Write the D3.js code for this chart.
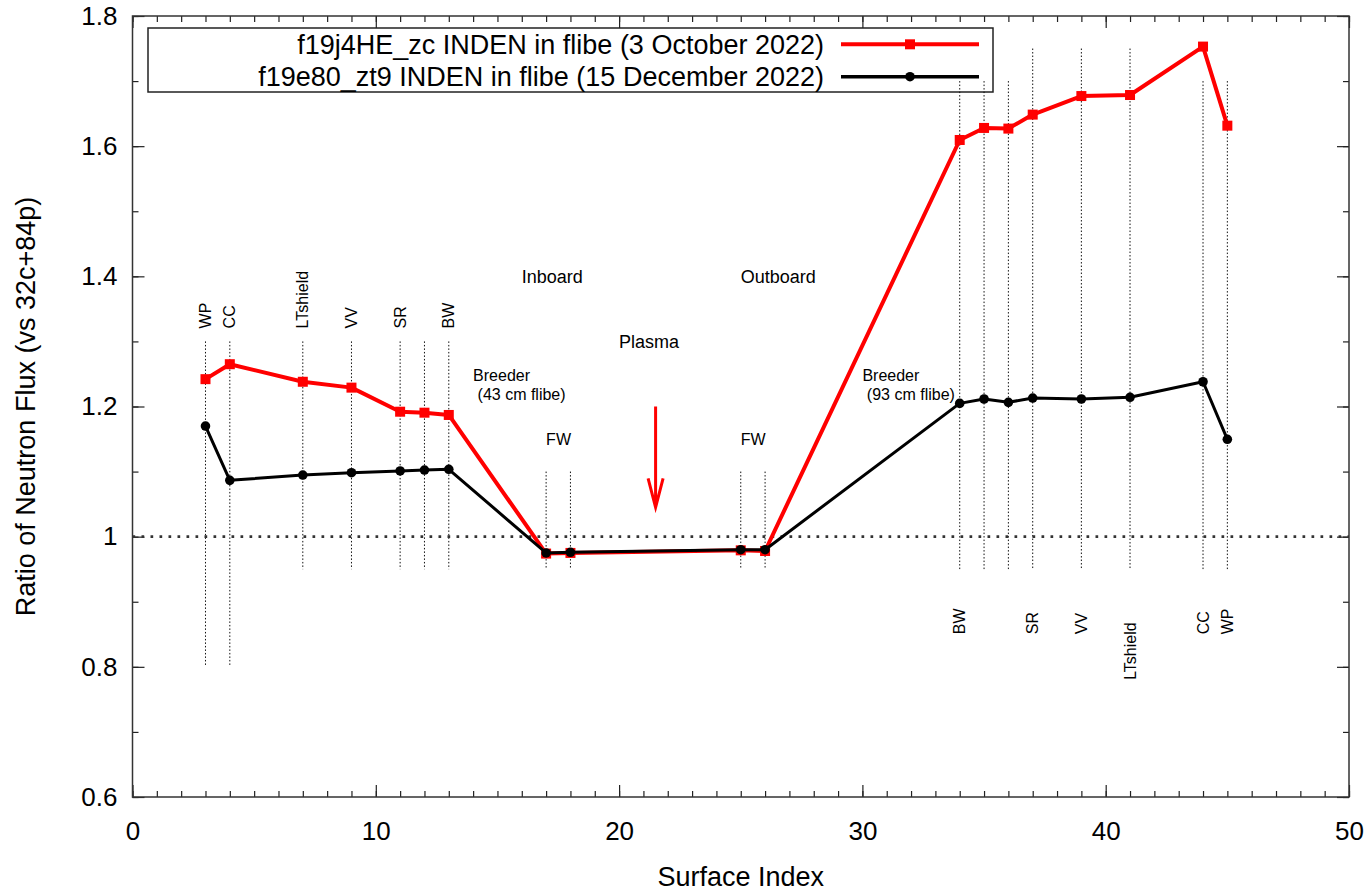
<!DOCTYPE html>
<html>
<head>
<meta charset="utf-8">
<script src="https://cdn.jsdelivr.net/npm/d3@7"></script>
<style>
  body { margin: 0; background: #fff; }
  text { font-family: "Liberation Sans", Arial, sans-serif; fill: #000; }
</style>
</head>
<body>
<svg></svg>
<script>
// surface indices and flux ratios
var surf = [3, 4, 7, 9, 11, 12, 13, 17, 18, 25, 26, 34, 35, 36, 37, 39, 41, 44, 45];
var octRatio = [1.242, 1.265, 1.238, 1.229, 1.192, 1.1905, 1.187, 0.974, 0.975, 0.979, 0.978,
                1.6095, 1.628, 1.627, 1.6485, 1.677, 1.6786, 1.753, 1.6315];
var decRatio = [1.170, 1.0865, 1.0947, 1.0983, 1.101, 1.1024, 1.1035, 0.975, 0.976, 0.980, 0.980,
                1.2048, 1.2115, 1.2064, 1.213, 1.2115, 1.2141, 1.238, 1.1496];
var seriesNames = ["f19j4HE_zc INDEN in flibe (3 October 2022)",
                   "f19e80_zt9 INDEN in flibe (15 December 2022)"];

// dotted guide lines: [x, yFrom, yTo]
var guides = [[3, 1.3, 0.8], [4, 1.3, 0.8], [7, 1.3, 0.95], [9, 1.3, 0.95], [11, 1.3, 0.95],
              [12, 1.3, 0.95], [13, 1.3, 0.95], [17, 1.1, 0.95], [18, 1.1, 0.95], [25, 1.1, 0.95],
              [26, 1.1, 0.95], [34, 1.7, 0.95], [35, 1.7, 0.95], [36, 1.7, 0.95], [37, 1.75, 0.95],
              [39, 1.75, 0.95], [41, 1.75, 0.95], [44, 1.7, 0.95], [45, 1.7, 0.95]];

// rotated component labels: [text, x, y]
var layerLabels = [["WP", 3, 1.32], ["CC", 4, 1.32], ["LTshield", 7, 1.32], ["VV", 9, 1.32],
                   ["SR", 11, 1.32], ["BW", 13, 1.32],
                   ["BW", 34, 0.85], ["SR", 37, 0.85], ["VV", 39, 0.85], ["LTshield", 41, 0.78],
                   ["CC", 44, 0.85], ["WP", 45, 0.85]];

// region labels: [text, x, y, size]
var regionLabels = [["Inboard", 16, 1.4, 18], ["Outboard", 25, 1.4, 18], ["Plasma", 20, 1.3, 18],
                    ["Breeder", 14, 1.248, 16], [" (43 cm flibe)", 14, 1.218, 16],
                    ["Breeder", 30, 1.248, 16], [" (93 cm flibe)", 30, 1.218, 16],
                    ["FW", 17, 1.15, 16], ["FW", 25, 1.15, 16]];

var arrowPos = {x: 21.5, y1: 1.2, y2: 1.045};

var margin = {top: 16, right: 22, bottom: 95, left: 132.5},
    width = 1371 - margin.left - margin.right,
    height = 892 - margin.top - margin.bottom;

var svg = d3.select("svg")
    .attr("width", 1371)
    .attr("height", 892);

var g = svg.append("g")
    .attr("transform", "translate(" + margin.left + "," + margin.top + ")");

var x = d3.scaleLinear().domain([0, 50]).range([0, width]);
var y = d3.scaleLinear().domain([0.6, 1.8]).range([height, 0]);

function styleAxis(sel) {
  sel.select(".domain").remove();
  sel.selectAll(".tick line").attr("stroke", "#222").attr("stroke-width", 1.2);
  sel.selectAll("text").style("font-size", "26px").attr("fill", "#000");
}

// bottom / top axes
g.append("g").attr("transform", "translate(0," + height + ")")
  .call(d3.axisBottom(x).tickValues(d3.range(0, 51)).tickSize(-6).tickFormat(""))
  .call(styleAxis);
g.append("g").attr("transform", "translate(0," + height + ")")
  .call(d3.axisBottom(x).tickValues(d3.range(0, 51, 10)).tickSize(-12).tickPadding(25))
  .call(styleAxis);
g.append("g")
  .call(d3.axisTop(x).tickValues(d3.range(0, 51)).tickSize(-6).tickFormat(""))
  .call(styleAxis);
g.append("g")
  .call(d3.axisTop(x).tickValues(d3.range(0, 51, 10)).tickSize(-12).tickFormat(""))
  .call(styleAxis);

// left / right axes
var minorY = d3.range(6, 19).map(function(d) { return d / 10; });
var majorY = [0.6, 0.8, 1, 1.2, 1.4, 1.6, 1.8];
g.append("g")
  .call(d3.axisLeft(y).tickValues(minorY).tickSize(-6).tickFormat(""))
  .call(styleAxis);
g.append("g")
  .call(d3.axisLeft(y).tickValues(majorY).tickSize(-12).tickPadding(15).tickFormat(d3.format("")))
  .call(styleAxis);
g.append("g").attr("transform", "translate(" + width + ",0)")
  .call(d3.axisRight(y).tickValues(minorY).tickSize(-6).tickFormat(""))
  .call(styleAxis);
g.append("g").attr("transform", "translate(" + width + ",0)")
  .call(d3.axisRight(y).tickValues(majorY).tickSize(-12).tickFormat(""))
  .call(styleAxis);

// frame
g.append("rect")
  .attr("width", width).attr("height", height)
  .attr("fill", "none").attr("stroke", "#333").attr("stroke-width", 1.5);

// axis titles
svg.append("text")
  .attr("transform", "translate(35," + (margin.top + height / 2) + ")rotate(-90)")
  .attr("text-anchor", "middle")
  .style("font-size", "27px")
  .text("Ratio of Neutron Flux (vs 32c+84p)");
svg.append("text")
  .attr("x", margin.left + width / 2).attr("y", 886)
  .attr("text-anchor", "middle")
  .style("font-size", "27px")
  .text("Surface Index");

// legend
var legend = g.append("g").attr("transform", "translate(15.5,12)");
legend.append("rect")
  .attr("width", 845).attr("height", 64)
  .attr("fill", "none").attr("stroke", "#222").attr("stroke-width", 1.5);
var legRows = [{name: seriesNames[0], color: "red", w: 4, shape: "square", ly: 16.3},
               {name: seriesNames[1], color: "black", w: 3.5, shape: "circle", ly: 48.7}];
legRows.forEach(function(r) {
  legend.append("text")
    .attr("x", 676).attr("y", r.ly).attr("dy", "0.35em")
    .attr("text-anchor", "end")
    .style("font-size", "27px")
    .text(r.name);
  legend.append("line")
    .attr("x1", 693).attr("x2", 831).attr("y1", r.ly).attr("y2", r.ly)
    .attr("stroke", r.color).attr("stroke-width", r.w);
  if (r.shape == "square") {
    legend.append("rect")
      .attr("x", 762 - 5).attr("y", r.ly - 5).attr("width", 10).attr("height", 10)
      .attr("fill", r.color);
  } else {
    legend.append("circle").attr("cx", 762).attr("cy", r.ly).attr("r", 4.8).attr("fill", r.color);
  }
});

// dotted guide lines
g.selectAll(".guide")
  .data(guides)
  .enter()
  .append("line")
    .attr("x1", function(d) { return x(d[0]); })
    .attr("x2", function(d) { return x(d[0]); })
    .attr("y1", function(d) { return y(d[1]); })
    .attr("y2", function(d) { return y(d[2]); })
    .attr("stroke", "#111")
    .attr("stroke-width", 1)
    .attr("stroke-dasharray", "1.5,2");

// ratio = 1 reference line
g.append("line")
  .attr("x1", x(0)).attr("x2", x(50)).attr("y1", y(1)).attr("y2", y(1))
  .attr("stroke", "#333").attr("stroke-width", 2.7)
  .attr("stroke-dasharray", "2.7,6.3");

// labels
g.selectAll(".layer")
  .data(layerLabels)
  .enter()
  .append("text")
    .attr("transform", function(d) { return "translate(" + x(d[1]) + "," + y(d[2]) + ")rotate(-90)"; })
    .attr("dy", "0.35em")
    .style("font-size", "16px")
    .text(function(d) { return d[0]; });

g.selectAll(".region")
  .data(regionLabels)
  .enter()
  .append("text")
    .attr("x", function(d) { return x(d[1]); })
    .attr("y", function(d) { return y(d[2]); })
    .attr("dy", "0.35em")
    .style("font-size", function(d) { return d[3] + "px"; })
    .style("white-space", "pre")
    .text(function(d) { return d[0]; });

// red arrow
var ax = x(arrowPos.x), ay1 = y(arrowPos.y1), ay2 = y(arrowPos.y2);
g.append("path")
  .attr("d", "M" + ax + "," + ay1 + "L" + ax + "," + ay2 +
             "M" + (ax - 7.5) + "," + (ay2 - 29) + "L" + ax + "," + ay2 + "L" + (ax + 7.5) + "," + (ay2 - 29))
  .attr("fill", "none").attr("stroke", "red").attr("stroke-width", 3);

// series
var octData = surf.map(function(s, i) { return [s, octRatio[i]]; });
var decData = surf.map(function(s, i) { return [s, decRatio[i]]; });
var line = d3.line()
  .x(function(d) { return x(d[0]); })
  .y(function(d) { return y(d[1]); });

g.append("path").datum(octData)
  .attr("d", line).attr("fill", "none").attr("stroke", "red")
  .attr("stroke-width", 4).attr("stroke-linejoin", "round");
g.selectAll(".sq")
  .data(octData)
  .enter()
  .append("rect")
    .attr("x", function(d) { return x(d[0]) - 5; })
    .attr("y", function(d) { return y(d[1]) - 5; })
    .attr("width", 10).attr("height", 10)
    .attr("fill", "red");

g.append("path").datum(decData)
  .attr("d", line).attr("fill", "none").attr("stroke", "black")
  .attr("stroke-width", 3).attr("stroke-linejoin", "round");
g.selectAll(".dot")
  .data(decData)
  .enter()
  .append("circle")
    .attr("cx", function(d) { return x(d[0]); })
    .attr("cy", function(d) { return y(d[1]); })
    .attr("r", 4.8)
    .attr("fill", "black");
</script>
</body>
</html>
